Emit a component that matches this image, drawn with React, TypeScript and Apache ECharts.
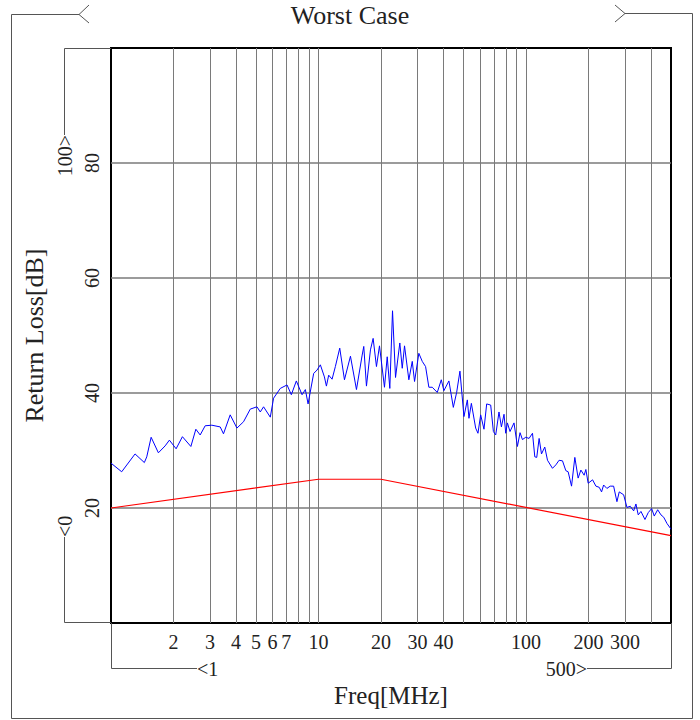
import React, { useEffect, useRef } from "react";
import * as echarts from "echarts";

// ---------- data ----------
const FREQ_MHZ = [
  1.0, 1.126, 1.306, 1.448, 1.487, 1.561, 1.692, 1.823, 1.912, 2.06, 2.209, 2.426, 2.564, 2.69, 2.844,
  3.063, 3.36, 3.485, 3.754, 4.045, 4.353, 4.691, 5.052, 5.241, 5.437, 5.857, 6.076, 6.546, 7.054, 7.398,
  7.821, 8.334, 8.645, 8.908, 9.479, 9.845, 10.21, 10.68, 10.92, 11.2, 11.63, 12.06, 12.66, 13.34, 14.26,
  15.24, 16.24, 16.53, 17.03, 17.8, 18.34, 19.03, 19.68, 20.8, 21.44, 22.07, 22.74, 23.51, 24.66, 25.33,
  25.98, 27.26, 28.31, 29.04, 30.46, 31.63, 32.82, 34.04, 35.35, 37.37, 39.07, 40.21, 42.52, 44.65, 46.33,
  48.06, 50.24, 52.18, 53.12, 54.55, 57.22, 58.7, 60.48, 62.75, 64.66, 67.6, 69.66, 71.47, 74.13, 76.14,
  78.38, 79.87, 81.39, 83.77, 87.57, 90.94, 93.62, 96.16, 99.75, 103.5, 107.5, 110.3, 112.7, 115.7, 118.8,
  123.2, 127.0, 134.2, 139.3, 144.4, 150.0, 155.6, 159.7, 165.8, 172.0, 178.4, 183.9, 190.7, 194.4, 199.4,
  209.4, 217.3, 225.4, 231.4, 236.7, 245.5, 254.7, 264.5, 274.4, 281.5, 295.6, 306.7, 318.2, 330.4, 338.8,
  347.6, 358.2, 374.5, 388.5, 403.4, 415.3, 431.3, 447.4, 461.1, 478.3, 496.2, 500,
];
const RETURN_LOSS_DB = [
  27.8, 26.3, 29.4, 27.9, 28.9, 32.3, 29.6, 30.8, 31.8, 30.3, 32.4, 30.7, 33.7, 32.7, 34.3,
  34.4, 34.1, 32.9, 36.2, 33.9, 35.0, 37.2, 37.6, 36.7, 37.6, 35.8, 39.1, 40.8, 41.4, 39.7,
  42.1, 39.7, 40.6, 38.1, 43.4, 44.0, 44.9, 42.8, 41.2, 43.1, 42.4, 44.6, 47.8, 42.3, 46.4,
  40.6, 46.6, 48.1, 41.2, 47.5, 49.5, 44.6, 48.2, 41.0, 46.3, 40.8, 54.3, 42.7, 48.7, 44.3,
  48.2, 42.3, 45.5, 42.0, 46.9, 45.5, 44.6, 41.0, 41.0, 40.1, 42.3, 40.4, 42.1, 37.5, 40.1,
  43.8, 35.9, 38.8, 35.6, 38.2, 33.9, 33.0, 36.2, 33.7, 38.1, 37.9, 33.3, 32.7, 36.7, 34.1,
  36.3, 33.0, 34.8, 33.3, 34.8, 30.7, 33.1, 31.9, 32.3, 32.1, 33.0, 28.9, 28.8, 32.1, 29.4,
  30.6, 28.3, 26.9, 27.5, 28.3, 28.2, 26.5, 26.3, 23.8, 28.8, 25.2, 26.6, 25.7, 26.7, 24.3,
  24.9, 23.8, 23.6, 22.8, 24.0, 23.4, 23.8, 23.8, 21.1, 22.8, 22.3, 20.1, 20.3, 19.5, 20.7,
  18.8, 19.4, 18.0, 19.2, 19.9, 18.6, 19.7, 18.8, 18.4, 17.3, 16.5, 16.3,
];
const LIMIT_FREQ_MHZ = [1, 10, 20, 500];
const LIMIT_DB = [20, 25, 25, 15.2];

const X_GRID_VALUES = [2, 3, 4, 5, 6, 7, 8, 9, 10, 20, 30, 40, 50, 60, 70, 80, 90, 100, 200, 300, 400];
const X_LABEL_VALUES = [2, 3, 4, 5, 6, 7, 10, 20, 30, 40, 100, 200, 300];
const Y_GRID_VALUES = [20, 40, 60, 80];
const X_MIN = 1;
const X_MAX = 500;
const Y_MIN = 0;
const Y_MAX = 100;

const TITLE = "Worst Case";
const X_NAME = "Freq[MHz]";
const Y_NAME = "Return Loss[dB]";

const FONT = "'Liberation Serif', 'DejaVu Serif', serif";
const FRAME = "#555";

export default function App() {
  const ref = useRef<HTMLDivElement>(null);

  useEffect(() => {
    if (!ref.current) return;
    const chart = echarts.init(ref.current, undefined, { renderer: "svg" });

    const measured = FREQ_MHZ.map((f, i) => [f, RETURN_LOSS_DB[i]]);
    const limit = LIMIT_FREQ_MHZ.map((f, i) => [f, LIMIT_DB[i]]);

    const lineStyle = { stroke: FRAME, lineWidth: 1, fill: "none" };
    const bracketText = (text: string, x: number, y: number, align: string, rot = 0) => ({
      type: "text",
      x,
      y,
      rotation: rot,
      style: {
        text,
        font: `20px ${FONT}`,
        fill: "#222",
        align,
        verticalAlign: "middle",
      },
      z: 10,
    });

    chart.setOption({
      animation: false,
      backgroundColor: "#fff",
      title: {
        text: TITLE,
        left: "center",
        top: 0,
        padding: [2, 5],
        textStyle: { fontFamily: FONT, fontSize: 26, fontWeight: "normal", color: "#222" },
      },
      grid: {
        left: 111,
        top: 48,
        width: 560,
        height: 575,
        show: true,
        borderColor: "#000",
        borderWidth: 2,
        backgroundColor: "transparent",
      },
      xAxis: {
        type: "log",
        logBase: 10,
        min: X_MIN,
        max: X_MAX,
        name: X_NAME,
        nameLocation: "middle",
        nameGap: 60,
        nameTextStyle: { fontFamily: FONT, fontSize: 25, color: "#222" },
        axisLine: { show: false },
        axisTick: { show: false, customValues: X_GRID_VALUES },
        minorTick: { show: false },
        axisLabel: {
          customValues: X_LABEL_VALUES,
          fontFamily: FONT,
          fontSize: 20,
          color: "#222",
          margin: 9,
          formatter: (v: number) => String(v),
        },
        splitLine: { show: true, lineStyle: { color: "#7a7a7a", width: 1 } },
        minorSplitLine: { show: false },
      },
      yAxis: {
        type: "value",
        min: Y_MIN,
        max: Y_MAX,
        interval: 20,
        name: Y_NAME,
        nameLocation: "middle",
        nameGap: 64,
        nameTextStyle: { fontFamily: FONT, fontSize: 26, color: "#222" },
        axisLine: { show: false },
        axisTick: { show: false, customValues: Y_GRID_VALUES },
        axisLabel: {
          customValues: Y_GRID_VALUES,
          rotate: 90,
          fontFamily: FONT,
          fontSize: 20,
          color: "#222",
          margin: 9,
        },
        splitLine: { show: true, lineStyle: { color: "#7a7a7a", width: 1.5 } },
      },
      series: [
        {
          type: "line",
          name: "Return Loss",
          data: measured,
          showSymbol: false,
          symbol: "none",
          lineStyle: { color: "#0000ff", width: 1 },
          z: 3,
        },
        {
          type: "line",
          name: "Limit",
          data: limit,
          showSymbol: false,
          symbol: "none",
          lineStyle: { color: "#ff0000", width: 1.2 },
          z: 2,
        },
      ],
      graphic: [
        // outer frame with title chevrons
        {
          type: "polyline",
          shape: { points: [[79, 14.5], [11.5, 14.5], [11.5, 718.5], [692.5, 718.5], [692.5, 13.5], [625, 13.5]] },
          style: lineStyle,
          z: 10,
        },
        { type: "polyline", shape: { points: [[89, 5], [79, 14.5], [89, 23]] }, style: lineStyle, z: 10 },
        { type: "polyline", shape: { points: [[615, 5], [625, 13.5], [615, 22]] }, style: lineStyle, z: 10 },
        // y bracket
        { type: "polyline", shape: { points: [[111, 48.5], [64.5, 48.5], [64.5, 135]] }, style: lineStyle, z: 10 },
        bracketText("100>", 65, 135, "right", Math.PI / 2),
        { type: "polyline", shape: { points: [[64.5, 537], [64.5, 622.5], [111, 622.5]] }, style: lineStyle, z: 10 },
        bracketText("<0", 65, 537, "left", Math.PI / 2),
        // x bracket
        { type: "polyline", shape: { points: [[111.5, 623], [111.5, 668.5], [197, 668.5]] }, style: lineStyle, z: 10 },
        bracketText("<1", 197, 668.5, "left"),
        { type: "polyline", shape: { points: [[587, 668.5], [671.5, 668.5], [671.5, 623]] }, style: lineStyle, z: 10 },
        bracketText("500>", 587, 668.5, "right"),
      ],
    });

    return () => chart.dispose();
  }, []);

  return (
    <div
      ref={ref}
      style={{ position: "fixed", left: 0, top: 0, width: 700, height: 720, background: "#fff" }}
    />
  );
}
